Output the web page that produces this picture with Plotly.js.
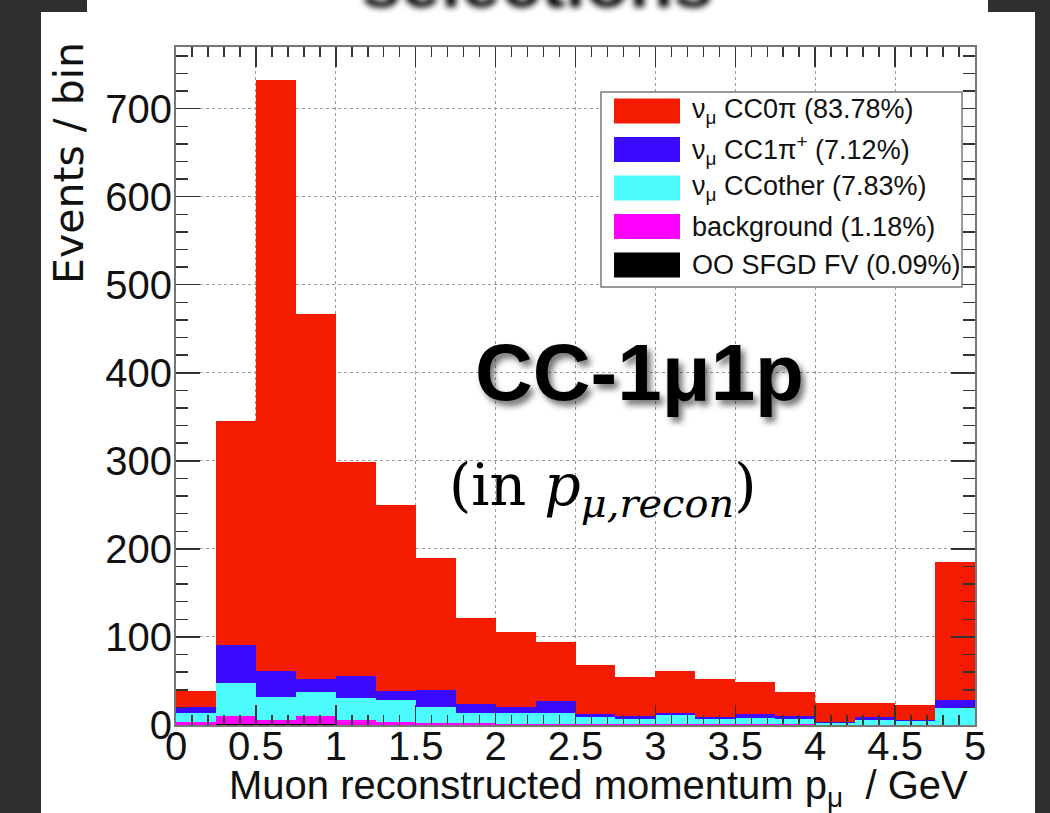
<!DOCTYPE html>
<html>
<head>
<meta charset="utf-8">
<script src="https://cdn.plot.ly/plotly-3.0.1.min.js"></script>
<style>
  html, body { margin:0; padding:0; width:1050px; height:813px; overflow:hidden; background:#2f2f2f; }
  #panel { position:absolute; left:41px; top:12px; width:994px; height:801px; background:#ffffff; }
  #strip { position:absolute; left:87px; top:0px; width:901px; height:12px; background:#ffffff; }
  #chart { position:absolute; left:0; top:0; width:1050px; height:813px; }
</style>
</head>
<body>
<div id="panel"></div>
<div id="strip"></div>
<div id="chart"></div>
<script>
// ---- data ----
const binEdges = [0, 0.25, 0.5, 0.75, 1.0, 1.25, 1.5, 1.75, 2.0, 2.25, 2.5, 2.75, 3.0, 3.25, 3.5, 3.75, 4.0, 4.25, 4.5, 4.75];
const binWidth = 0.25;

// stacked components, bottom to top
const ooSfgdFV   = [0, 1, 1, 1, 0, 0, 0, 0, 0, 0, 0, 0, 0, 0, 0, 0, 0, 0, 0, 0];
const background = [3, 9, 5, 9, 6, 3, 2, 2, 1, 1, 1, 1, 1, 1, 1, 1, 0, 0, 0, 0];
const ccOther    = [11, 38, 26, 27, 25, 25, 18, 12, 13, 13, 8, 6, 10, 6, 7, 6, 2, 6, 4, 19];
const cc1piPlus  = [7, 43, 29, 15, 25, 11, 20, 10, 7, 13, 4, 3, 3, 2, 4, 3, 1, 3, 2, 9];
const cc0pi      = [18, 254, 672, 415, 243, 211, 150, 98, 85, 67, 55, 44, 47, 43, 37, 28, 22, 16, 17, 157];

const legendLabels = [
  'ν<sub>μ</sub> CC0π (83.78%)',
  'ν<sub>μ</sub> CC1π<sup>+</sup> (7.12%)',
  'ν<sub>μ</sub> CCother (7.83%)',
  'background (1.18%)',
  'OO SFGD FV (0.09%)'
];
const legendColors = ['#f41b00', '#3b0bff', '#4dfcff', '#ff00ff', '#000000'];
const legendValues = [cc0pi, cc1piPlus, ccOther, background, ooSfgdFV];

const xTitle = 'Muon reconstructed momentum p<sub>μ</sub>  / GeV';
const yTitle = 'Events / bin';
const mainLabel = 'CC-1μ1p';
const subLabel = '(in <i>p</i><sub><i>μ,recon</i></sub>)';
const headerText = 'selections';

// ---- geometry helpers (plot area in page pixels) ----
const PL = 176, PR = 975, PT = 47, PB = 725;
const px2x = p => (p - PL) / (PR - PL);
const px2y = p => (PB - p) / (PB - PT);

// ---- traces: stack from bottom (last legend entry) to top ----
const traces = [];
for (let i = legendValues.length - 1; i >= 0; i--) {
  traces.push({
    type: 'bar',
    x: binEdges,
    y: legendValues[i],
    width: binWidth,
    offset: 0,
    marker: { color: legendColors[i], line: { width: 0 } },
    name: legendLabels[i],
    showlegend: false,
    hoverinfo: 'skip'
  });
}

// ---- legend drawn as shapes + annotations ----
const shapes = [];
const annotations = [];
shapes.push({ type:'rect', xref:'paper', yref:'paper', layer:'above',
  x0: px2x(601), x1: px2x(962), y0: px2y(287), y1: px2y(92),
  fillcolor:'#ffffff', line:{ color:'#7a7a7a', width:1.5 } });
const rowTop = 111, rowStep = 38.5;
legendLabels.forEach((lab, i) => {
  const cy = rowTop + i * rowStep;
  shapes.push({ type:'rect', xref:'paper', yref:'paper', layer:'above',
    x0: px2x(614), x1: px2x(680), y0: px2y(cy + 12.5), y1: px2y(cy - 12.5),
    fillcolor: legendColors[i], line:{ width:0 } });
  annotations.push({ xref:'paper', yref:'paper', x: px2x(690), y: px2y(cy),
    xanchor:'left', yanchor:'middle', showarrow:false, text: lab,
    font:{ family:'Liberation Sans, Arial, sans-serif', size:27, color:'#111' } });
});

// axis titles (ROOT style: aligned to the axis end)
annotations.push({ xref:'paper', yref:'paper', x: px2x(970), y: px2y(761),
  xanchor:'right', yanchor:'top', showarrow:false, text: xTitle,
  font:{ family:'Liberation Sans, Arial, sans-serif', size:40, color:'#111' } });
annotations.push({ xref:'paper', yref:'paper', x: px2x(69), y: px2y(40),
  xanchor:'center', yanchor:'top', textangle:-90, showarrow:false, text: yTitle,
  font:{ family:'DejaVu Sans, Liberation Sans, sans-serif', size:41, color:'#111' } });

// overlay texts
annotations.push({ xref:'paper', yref:'paper', x: px2x(639), y: px2y(372),
  xanchor:'center', yanchor:'middle', showarrow:false, text: mainLabel,
  font:{ family:'Liberation Sans, Arial, sans-serif', size:80, color:'#000', weight:'bold' } });
annotations.push({ xref:'paper', yref:'paper', x: px2x(602), y: px2y(489),
  xanchor:'center', yanchor:'middle', showarrow:false, text: subLabel,
  font:{ family:'DejaVu Serif, Liberation Serif, serif', size:57, color:'#000' } });
annotations.push({ xref:'paper', yref:'paper', x: px2x(537), y: px2y(24),
  xanchor:'center', yanchor:'bottom', showarrow:false, text: headerText,
  font:{ family:'Liberation Sans, Arial, sans-serif', size:72, color:'#000', weight:'bold' } });

const tickFont = { family:'Liberation Sans, Arial, sans-serif', size:40, color:'#111' };

const layout = {
  width:1050, height:813,
  margin:{ l:PL, r:1050-PR, t:PT, b:813-PB, pad:0 },
  paper_bgcolor:'rgba(0,0,0,0)',
  plot_bgcolor:'#ffffff',
  barmode:'stack', bargap:0,
  showlegend:false,
  xaxis:{
    range:[0,5], dtick:0.5, tick0:0, ticks:'inside', ticklen:20, tickwidth:1.5, tickcolor:'#333',
    showline:true, linecolor:'#777', linewidth:2, mirror:'ticks',
    showgrid:true, gridcolor:'#9a9a9a', griddash:'dot', gridwidth:1,
    zeroline:false, tickfont:tickFont, ticklabelstandoff:-15,
    minor:{ dtick:0.1, ticks:'inside', ticklen:10, tickwidth:1.5, tickcolor:'#333', showgrid:false }
  },
  yaxis:{
    range:[0,770], dtick:100, tick0:0, ticks:'inside', ticklen:24, tickwidth:1.5, tickcolor:'#333',
    showline:true, linecolor:'#777', linewidth:2, mirror:'ticks',
    showgrid:true, gridcolor:'#9a9a9a', griddash:'dot', gridwidth:1,
    zeroline:false, tickfont:tickFont, ticklabelstandoff:-6,
    minor:{ dtick:20, ticks:'inside', ticklen:12, tickwidth:1.5, tickcolor:'#333', showgrid:false }
  },
  shapes: shapes,
  annotations: annotations
};

Plotly.newPlot('chart', traces, layout, { staticPlot:true, displayModeBar:false }).then(() => {
  const anns = document.querySelectorAll('#chart .annotation');
  const n = anns.length;
  // main label gets a drop shadow, header gets blurred
  if (anns[n-3]) anns[n-3].style.filter = 'drop-shadow(4px 5px 3px rgba(0,0,0,0.55))';
  if (anns[n-1]) anns[n-1].style.filter = 'blur(3px)';
});
</script>
</body>
</html>
